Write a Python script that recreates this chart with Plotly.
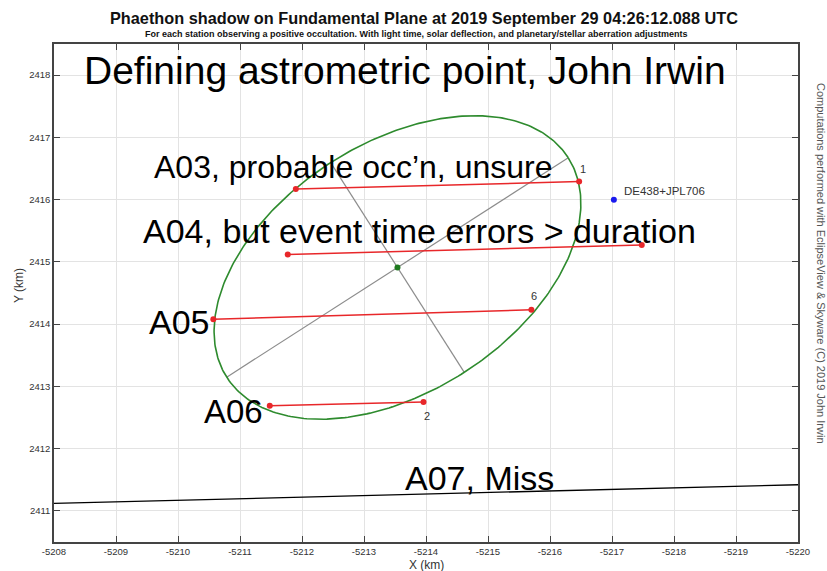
import numpy as np
import plotly.graph_objects as go

# Chord endpoints on the fundamental plane (km) for each positive station
stations = ["A03", "A04", "A05", "A06"]
chord_x1 = [-5211.90, -5211.77, -5210.57, -5211.48]
chord_y1 = [2416.17, 2415.12, 2414.08, 2412.69]
chord_x2 = [-5216.47, -5217.48, -5215.70, -5213.96]
chord_y2 = [2416.29, 2415.27, 2414.23, 2412.75]
chord_end_labels = ["1", "", "6", "2"]

# Fitted shadow ellipse
ellipse_center = (-5213.54, 2414.91)
ellipse_semi_major = 3.27
ellipse_semi_minor = 2.00
ellipse_angle_deg = 147.4

# Predicted centre from ephemeris
ephem_label = "DE438+JPL706"
ephem_x, ephem_y = -5217.03, 2416.00

# Miss chord (A07)
miss_x = [-5208.0, -5220.0]
miss_y = [2411.12, 2411.42]

# Text notes placed on the plane
notes = [
    ("Defining astrometric point, John Irwin", -5213.66, 2418.08, 39),
    ("A03, probable occ\u2019n, unsure", -5212.83, 2416.52, 32),
    ("A04, but event time errors > duration", -5213.90, 2415.50, 34),
    ("A05", -5210.02, 2414.03, 34),
    ("A06", -5210.90, 2412.59, 33),
    ("A07, Miss", -5214.87, 2411.53, 34),
]

x_ticks = list(range(-5208, -5221, -1))
y_ticks = list(range(2411, 2419))

arial = "Liberation Sans, Arial, sans-serif"

W, H = 827, 571
L, R, T, B = 54, 29, 44, 29
pw, ph = W - L - R, H - T - B

fig = go.Figure()

# ellipse outline and its axes
th = np.radians(ellipse_angle_deg)
ux, uy = np.cos(th), np.sin(th)
vx, vy = -np.sin(th), np.cos(th)
t = np.linspace(0, 2 * np.pi, 361)
cx, cy = ellipse_center
ex = cx + ellipse_semi_major * np.cos(t) * ux + ellipse_semi_minor * np.sin(t) * vx
ey = cy + ellipse_semi_major * np.cos(t) * uy + ellipse_semi_minor * np.sin(t) * vy

for sx, sy in [(ux * ellipse_semi_major, uy * ellipse_semi_major),
               (vx * ellipse_semi_minor, vy * ellipse_semi_minor)]:
    fig.add_trace(go.Scatter(x=[cx - sx, cx + sx], y=[cy - sy, cy + sy], mode="lines",
                             line=dict(color="#8c8c8c", width=1.2), hoverinfo="skip",
                             showlegend=False))

fig.add_trace(go.Scatter(x=ex, y=ey, mode="lines", line=dict(color="#2e8b2e", width=1.6),
                         hoverinfo="skip", showlegend=False))
fig.add_trace(go.Scatter(x=[cx], y=[cy], mode="markers",
                         marker=dict(color="#1f7a1f", size=6), showlegend=False))

# chords
for i, name in enumerate(stations):
    fig.add_trace(go.Scatter(x=[chord_x1[i], chord_x2[i]], y=[chord_y1[i], chord_y2[i]],
                             mode="lines+markers", name=name,
                             line=dict(color="#e8272a", width=1.5),
                             marker=dict(color="#e8272a", size=6), showlegend=False))

# miss chord
fig.add_trace(go.Scatter(x=miss_x, y=miss_y, mode="lines", line=dict(color="black", width=1.3),
                         showlegend=False, cliponaxis=False))

# ephemeris point
fig.add_trace(go.Scatter(x=[ephem_x], y=[ephem_y], mode="markers",
                         marker=dict(color="#1a1aee", size=6), showlegend=False))

annotations = []
annotations.append(dict(x=ephem_x, y=ephem_y, xref="x", yref="y", text=ephem_label,
                        showarrow=False, xanchor="left", yanchor="bottom", xshift=8, yshift=1,
                        font=dict(family=arial, size=11.5, color="#333333")))

# chord end numbers
end_offsets = {"1": (4, 13), "6": (3, 14), "2": (3, -14)}
for i, lab in enumerate(chord_end_labels):
    if not lab:
        continue
    dx, dy = end_offsets[lab]
    annotations.append(dict(x=chord_x2[i], y=chord_y2[i], xref="x", yref="y", text=lab,
                            showarrow=False, xshift=dx, yshift=dy,
                            font=dict(family=arial, size=11, color="#333333")))

for txt, x, y, size in notes:
    annotations.append(dict(x=x, y=y, xref="x", yref="y", text=txt, showarrow=False,
                            xanchor="center", yanchor="middle",
                            font=dict(family=arial, size=size, color="black")))


def page_text(text, px, py, size, color="#333333", angle=0, bold=False):
    """Place text at a page pixel position (centre anchored)."""
    if bold:
        text = "<b>" + text + "</b>"
    annotations.append(dict(x=(px - L) / pw, y=(H - B - py) / ph, xref="paper", yref="paper",
                            text=text, showarrow=False, textangle=angle,
                            xanchor="center", yanchor="middle",
                            font=dict(family=arial, size=size, color=color)))


page_text("Phaethon shadow on Fundamental Plane at 2019 September 29 04:26:12.088 UTC",
          424, 18, 16.3, color="#111111", bold=True)
page_text("For each station observing a positive occultation. With light time, solar deflection, "
          "and planetary/stellar aberration adjustments", 416, 34, 9, color="#111111", bold=True)
page_text("Computations performed with EclipseView & Skyware (C) 2019 John Irwin",
          821, 263, 11, color="#555555", angle=90)
page_text("X (km)", 426, 565, 12)
page_text("Y (km)", 19, 286, 12, angle=-90)

axis_common = dict(showgrid=True, gridcolor="#e3e3e3", gridwidth=1, zeroline=False,
                   showline=True, linecolor="#444444", linewidth=1.5, mirror="ticks",
                   ticks="inside", ticklen=6, tickcolor="#444444", tickwidth=1.3,
                   tickfont=dict(family=arial, size=9.5, color="#333333"), automargin=False)

fig.update_layout(
    width=W, height=H,
    margin=dict(l=L, r=R, t=T, b=B),
    paper_bgcolor="white", plot_bgcolor="white",
    annotations=annotations,
    xaxis=dict(range=[-5208, -5220], tickvals=x_ticks, ticktext=[str(v) for v in x_ticks],
               **axis_common),
    yaxis=dict(range=[2410.5, 2418.5], tickvals=y_ticks, ticktext=[str(v) for v in y_ticks],
               **axis_common),
)

fig.write_html("out.html")
